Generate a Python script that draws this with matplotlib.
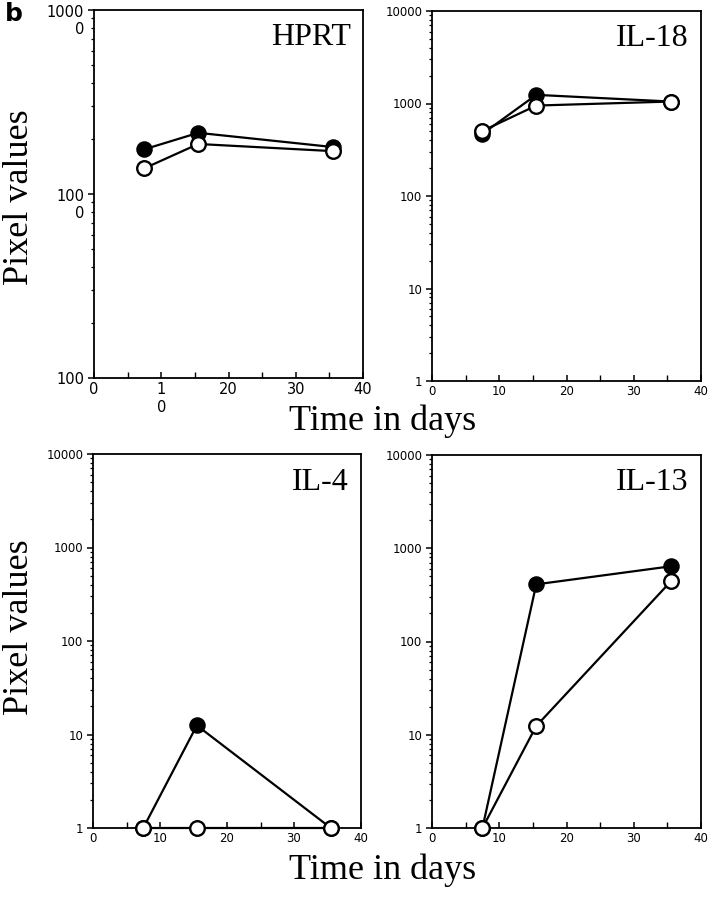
import matplotlib
matplotlib.use("Agg")
import matplotlib.pyplot as plt
from matplotlib.transforms import ScaledTranslation
from matplotlib.ticker import LogLocator, MultipleLocator, NullFormatter

# ---- data ----
days = [7.5, 15.5, 35.5]
hprt_filled = [1750, 2150, 1800]
hprt_open = [1380, 1870, 1710]
il18_filled = [470, 1240, 1050]
il18_open = [505, 950, 1050]
il4_filled = [1, 12.5, 1]
il4_open = [1, 1, 1]
il13_filled = [1, 410, 640]
il13_open = [1, 12.4, 440]

panel_titles = ["HPRT", "IL-18", "IL-4", "IL-13"]
x_ticks = [0, 10, 20, 30, 40]
x_ticklabels = ["0", "10", "20", "30", "40"]
hprt_xticklabels = ["0", "1\n0", "20", "30", "40"]
y_ticks = [1, 10, 100, 1000, 10000]
y_ticklabels = ["1", "10", "100", "1000", "10000"]
hprt_yticks = [100, 1000, 10000]
hprt_yticklabels = ["100", "100\n0", "1000\n0"]

W, H = 710, 900
fig = plt.figure(figsize=(W / 100, H / 100), dpi=100)

def px_axes(l, t, r, b):
    return fig.add_axes([l / W, 1 - b / H, (r - l) / W, (b - t) / H])

ax_hprt = px_axes(94, 10, 363, 378)
ax_il18 = px_axes(432, 11, 701, 381)
ax_il4 = px_axes(93, 454, 361, 828)
ax_il13 = px_axes(432, 455, 701, 828)

serif = ["Liberation Serif", "DejaVu Serif"]
sans = ["DejaVu Sans"]

def style(ax, ylim, tick_fs, xt, xtl, yt, ytl):
    ax.set_yscale("log")
    ax.set_xlim(0, 40)
    ax.set_ylim(*ylim)
    ax.set_xticks(xt)
    ax.set_xticklabels(xtl, multialignment="center", family=sans)
    ax.set_yticks(yt)
    ax.set_yticklabels(ytl, multialignment="right", family=sans)
    ax.xaxis.set_minor_locator(MultipleLocator(5))
    ax.yaxis.set_minor_locator(LogLocator(base=10, subs=range(2, 10)))
    ax.yaxis.set_minor_formatter(NullFormatter())
    ax.tick_params(axis="y", which="major", direction="out", length=4, width=1.1,
                   labelsize=tick_fs, pad=3)
    ax.tick_params(axis="y", which="minor", direction="out", length=2.5, width=0.9)
    ax.tick_params(axis="x", which="major", direction="in", length=4, width=1.1,
                   labelsize=tick_fs, pad=3)
    ax.tick_params(axis="x", which="minor", direction="in", length=4, width=1.0)
    for sp in ax.spines.values():
        sp.set_linewidth(1.3)

def plot_series(ax, filled, opened, title):
    ax.plot(days, filled, "-o", color="black", lw=1.6, ms=10.5,
            mfc="black", mec="black", mew=1.4, zorder=3, clip_on=False)
    ax.plot(days, opened, "-o", color="black", lw=1.6, ms=10.5,
            mfc="white", mec="black", mew=1.7, zorder=4, clip_on=False)
    ax.text(0.955, 0.925, title, transform=ax.transAxes, ha="right", va="center",
            fontsize=23, family=serif)

# HPRT panel
style(ax_hprt, (100, 10000), 10.5, x_ticks, hprt_xticklabels, hprt_yticks, hprt_yticklabels)
for lbl in ax_hprt.get_yticklabels():
    if "\n" in lbl.get_text():
        lbl.set_va("top")
        lbl.set_transform(lbl.get_transform() + ScaledTranslation(0, 3.6 / 72, fig.dpi_scale_trans))
plot_series(ax_hprt, hprt_filled, hprt_open, panel_titles[0])

for ax, f, o, t in [(ax_il18, il18_filled, il18_open, panel_titles[1]),
                    (ax_il4, il4_filled, il4_open, panel_titles[2]),
                    (ax_il13, il13_filled, il13_open, panel_titles[3])]:
    style(ax, (1, 10000), 8.5, x_ticks, x_ticklabels, y_ticks, y_ticklabels)
    plot_series(ax, f, o, t)

# shared labels
fig.text(20 / W, 1 - 197 / H, "Pixel values", rotation=90, ha="center", va="center",
         fontsize=26, family=serif)
fig.text(20 / W, 1 - 627 / H, "Pixel values", rotation=90, ha="center", va="center",
         fontsize=26, family=serif)
fig.text(383 / W, 1 - 421 / H, "Time in days", ha="center", va="center",
         fontsize=26, family=serif)
fig.text(383 / W, 1 - 870 / H, "Time in days", ha="center", va="center",
         fontsize=26, family=serif)
fig.text(5 / W, 1 - 14 / H, "b", ha="left", va="center", fontsize=18,
         fontweight="bold", family=sans)

fig.savefig("out.png", dpi=100)
